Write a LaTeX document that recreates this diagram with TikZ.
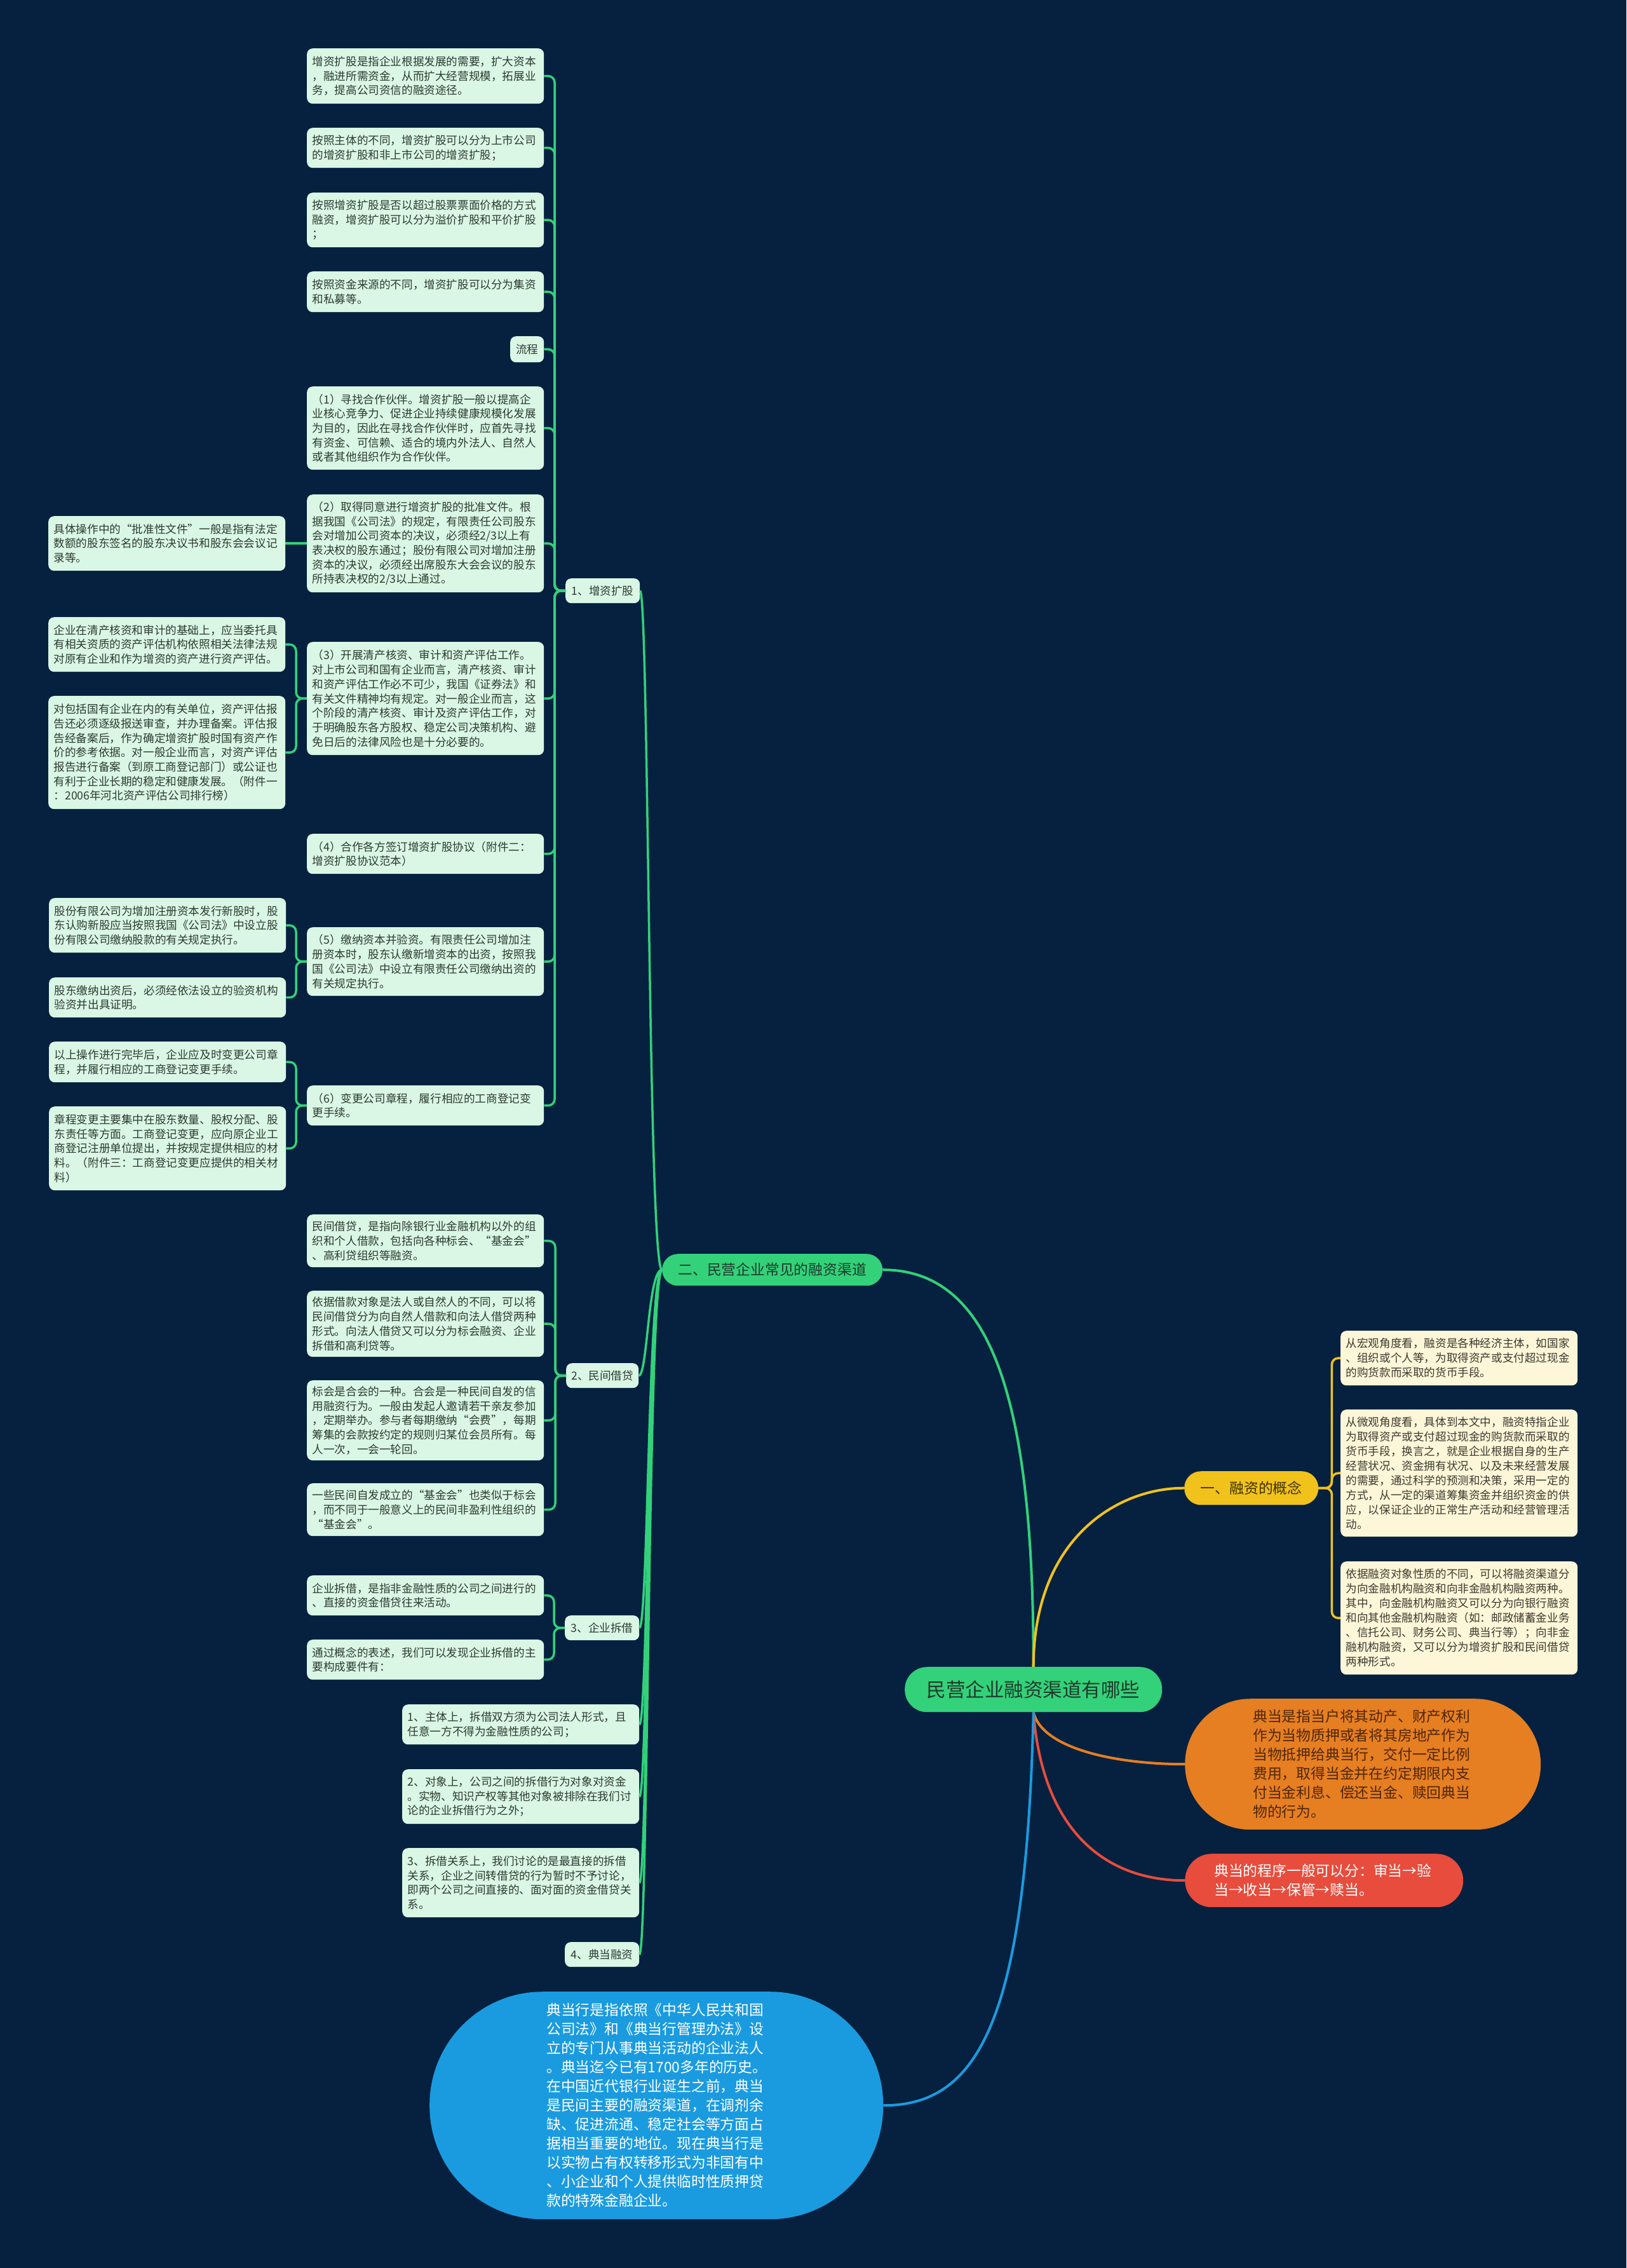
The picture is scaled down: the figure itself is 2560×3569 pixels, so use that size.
\documentclass[tikz,border=0pt]{standalone}
\usepackage{fontspec}
\newfontfamily\cjk{Noto Sans CJK SC}
\definecolor{bgnavy}{HTML}{05213F}
\definecolor{mint}{HTML}{DAF6E4}
\definecolor{leafink}{HTML}{2C3B33}
\definecolor{grn}{HTML}{33D17A}
\definecolor{grnink}{HTML}{1E3A2A}
\definecolor{gold}{HTML}{F1C21B}
\definecolor{goldink}{HTML}{3B3000}
\definecolor{cream}{HTML}{FDF6D8}
\definecolor{creamink}{HTML}{3D3A30}
\definecolor{amber}{HTML}{E67E22}
\definecolor{amberink}{HTML}{4E2707}
\definecolor{tomato}{HTML}{E74C3C}
\definecolor{sky}{HTML}{1A9BE0}

\begin{document}
\begin{tikzpicture}[x=1pt,y=-1pt,
  every node/.style={anchor=north west, inner sep=0pt},
  leaf/.style={fill=mint, text=leafink, rounded corners=9, text width=356, align=left,
    inner xsep=8.5, font=\cjk\fontsize{17.6}{22.7}\selectfont},
  sub/.style={fill=mint, text=leafink, rounded corners=9, minimum height=39,
    font=\cjk\fontsize{17.6}{22.7}\selectfont},
  note/.style={fill=cream, text=creamink, rounded corners=9, text width=356, align=left,
    inner xsep=8.5, font=\cjk\fontsize{17.6}{23}\selectfont},
  branch/.style={rounded corners=25, minimum height=50, font=\cjk\fontsize{22.8}{28}\selectfont},
  topic/.style={fill=grn, text=grnink, rounded corners=35, minimum width=405, minimum height=71,
    font=\cjk\fontsize{30.5}{36}\selectfont},
  bubble/.style={text width=346, align=left, font=\cjk\fontsize{22.8}{30}\selectfont},
  link/.style={draw=grn, line width=3.5, rounded corners=10},
  goldlink/.style={draw=gold, line width=3.5, rounded corners=10}]
\useasboundingbox[fill=bgnavy] (0,0) rectangle (2560,3569);

\node[leaf, minimum height=87] (b1) at (483,76) {增资扩股是指企业根据发展的需要，扩大资本\\，融进所需资金，从而扩大经营规模，拓展业\\务，提高公司资信的融资途径。};
\node[leaf, minimum height=63] (b2) at (483,201) {按照主体的不同，增资扩股可以分为上市公司\\的增资扩股和非上市公司的增资扩股；};
\node[leaf, minimum height=86] (b3) at (483,303) {按照增资扩股是否以超过股票票面价格的方式\\融资，增资扩股可以分为溢价扩股和平价扩股\\；};
\node[leaf, minimum height=64] (b4) at (483,427) {按照资金来源的不同，增资扩股可以分为集资\\和私募等。};
\node[sub, minimum width=53, minimum height=41] (lc) at (803,529) {流程};
\node[leaf, minimum height=131] (p1) at (483,608) {（1）寻找合作伙伴。增资扩股一般以提高企\\业核心竞争力、促进企业持续健康规模化发展\\为目的，因此在寻找合作伙伴时，应首先寻找\\有资金、可信赖、适合的境内外法人、自然人\\或者其他组织作为合作伙伴。};
\node[leaf, minimum height=154] (p2) at (483,778) {（2）取得同意进行增资扩股的批准文件。根\\据我国《公司法》的规定，有限责任公司股东\\会对增加公司资本的决议，必须经2/3以上有\\表决权的股东通过；股份有限公司对增加注册\\资本的决议，必须经出席股东大会会议的股东\\所持表决权的2/3以上通过。};
\node[leaf, minimum height=86] (p2a) at (76,812) {具体操作中的“批准性文件”一般是指有法定\\数额的股东签名的股东决议书和股东会会议记\\录等。};
\node[leaf, minimum height=178] (p3) at (483,1010) {（3）开展清产核资、审计和资产评估工作。\\对上市公司和国有企业而言，清产核资、审计\\和资产评估工作必不可少，我国《证券法》和\\有关文件精神均有规定。对一般企业而言，这\\个阶段的清产核资、审计及资产评估工作，对\\于明确股东各方股权、稳定公司决策机构、避\\免日后的法律风险也是十分必要的。};
\node[leaf, minimum height=86] (p3a) at (76,971) {企业在清产核资和审计的基础上，应当委托具\\有相关资质的资产评估机构依照相关法律法规\\对原有企业和作为增资的资产进行资产评估。};
\node[leaf, minimum height=178] (p3b) at (76,1095) {对包括国有企业在内的有关单位，资产评估报\\告还必须逐级报送审查，并办理备案。评估报\\告经备案后，作为确定增资扩股时国有资产作\\价的参考依据。对一般企业而言，对资产评估\\报告进行备案（到原工商登记部门）或公证也\\有利于企业长期的稳定和健康发展。（附件一\\：2006年河北资产评估公司排行榜）};
\node[leaf, minimum height=63] (p4) at (483,1312) {（4）合作各方签订增资扩股协议（附件二：\\增资扩股协议范本）};
\node[leaf, minimum height=108] (p5) at (483,1459) {（5）缴纳资本并验资。有限责任公司增加注\\册资本时，股东认缴新增资本的出资，按照我\\国《公司法》中设立有限责任公司缴纳出资的\\有关规定执行。};
\node[leaf, minimum height=86] (p5a) at (77,1413) {股份有限公司为增加注册资本发行新股时，股\\东认购新股应当按照我国《公司法》中设立股\\份有限公司缴纳股款的有关规定执行。};
\node[leaf, minimum height=63] (p5b) at (77,1538) {股东缴纳出资后，必须经依法设立的验资机构\\验资并出具证明。};
\node[leaf, minimum height=63] (p6) at (483,1708) {（6）变更公司章程，履行相应的工商登记变\\更手续。};
\node[leaf, minimum height=64] (p6a) at (77,1639) {以上操作进行完毕后，企业应及时变更公司章\\程，并履行相应的工商登记变更手续。};
\node[leaf, minimum height=132] (p6b) at (77,1741) {章程变更主要集中在股东数量、股权分配、股\\东责任等方面。工商登记变更，应向原企业工\\商登记注册单位提出，并按规定提供相应的材\\料。（附件三：工商登记变更应提供的相关材\\料）};
\node[sub, minimum width=117] (l1) at (890,910) {1、增资扩股};

\node[leaf, minimum height=83] (m1) at (483,1911) {民间借贷，是指向除银行业金融机构以外的组\\织和个人借款，包括向各种标会、“基金会”\\、高利贷组织等融资。};
\node[leaf, minimum height=104] (m2) at (483,2031) {依据借款对象是法人或自然人的不同，可以将\\民间借贷分为向自然人借款和向法人借贷两种\\形式。向法人借贷又可以分为标会融资、企业\\拆借和高利贷等。};
\node[leaf, minimum height=126] (m3) at (483,2172) {标会是合会的一种。合会是一种民间自发的信\\用融资行为。一般由发起人邀请若干亲友参加\\，定期举办。参与者每期缴纳“会费”，每期\\筹集的会款按约定的规则归某位会员所有。每\\人一次，一会一轮回。};
\node[leaf, minimum height=83] (m4) at (483,2334) {一些民间自发成立的“基金会”也类似于标会\\，而不同于一般意义上的民间非盈利性组织的\\“基金会”。};
\node[sub, minimum width=114] (l2) at (891,2145) {2、民间借贷};

\node[leaf, minimum height=63] (q1) at (483,2479) {企业拆借，是指非金融性质的公司之间进行的\\、直接的资金借贷往来活动。};
\node[leaf, minimum height=63] (q2) at (483,2580) {通过概念的表述，我们可以发现企业拆借的主\\要构成要件有：};
\node[sub, minimum width=117] (l3) at (889,2542) {3、企业拆借};

\node[leaf, minimum height=63] (k1) at (633,2682) {1、主体上，拆借双方须为公司法人形式，且\\任意一方不得为金融性质的公司；};
\node[leaf, minimum height=86] (k2) at (633,2784) {2、对象上，公司之间的拆借行为对象对资金\\。实物、知识产权等其他对象被排除在我们讨\\论的企业拆借行为之外；};
\node[leaf, minimum height=109] (k3) at (633,2908) {3、拆借关系上，我们讨论的是最直接的拆借\\关系，企业之间转借贷的行为暂时不予讨论，\\即两个公司之间直接的、面对面的资金借贷关\\系。};
\node[sub, minimum width=117] (l4) at (889,3056) {4、典当融资};

\node[branch, fill=grn, text=grnink, minimum width=347] (e) at (1042,1973) {二、民营企业常见的融资渠道};
\node[topic] (r) at (1424,2623) {民营企业融资渠道有哪些};
\node[branch, fill=gold, text=goldink, minimum width=211, minimum height=53, rounded corners=26] (y) at (1864,2315) {一、融资的概念};

\node[note, minimum height=86] (c1) at (2110,2094) {从宏观角度看，融资是各种经济主体，如国家\\、组织或个人等，为取得资产或支付超过现金\\的购货款而采取的货币手段。};
\node[note, minimum height=200] (c2) at (2110,2218) {从微观角度看，具体到本文中，融资特指企业\\为取得资产或支付超过现金的购货款而采取的\\货币手段，换言之，就是企业根据自身的生产\\经营状况、资金拥有状况、以及未来经营发展\\的需要，通过科学的预测和决策，采用一定的\\方式，从一定的渠道筹集资金并组织资金的供\\应，以保证企业的正常生产活动和经营管理活\\动。};
\node[note, minimum height=178] (c3) at (2110,2457) {依据融资对象性质的不同，可以将融资渠道分\\为向金融机构融资和向非金融机构融资两种。\\其中，向金融机构融资又可以分为向银行融资\\和向其他金融机构融资（如：邮政储蓄金业务\\、信托公司、财务公司、典当行等）；向非金\\融机构融资，又可以分为增资扩股和民间借贷\\两种形式。};

\node[bubble, fill=amber, text=amberink, minimum width=560, minimum height=206, rounded corners=103] (o) at (1865,2673) {典当是指当户将其动产、财产权利\\作为当物质押或者将其房地产作为\\当物抵押给典当行，交付一定比例\\费用，取得当金并在约定期限内支\\付当金利息、偿还当金、赎回典当\\物的行为。};
\node[bubble, fill=tomato, text=white, minimum width=438, minimum height=84, rounded corners=42] (d) at (1865,2917) {典当的程序一般可以分：审当→验\\当→收当→保管→赎当。};
\node[bubble, fill=sky, text=white, minimum width=714, minimum height=358, rounded corners=178] (bl) at (676,3134) {典当行是指依照《中华人民共和国\\公司法》和《典当行管理办法》设\\立的专门从事典当活动的企业法人\\。典当迄今已有1700多年的历史。\\在中国近代银行业诞生之前，典当\\是民间主要的融资渠道，在调剂余\\缺、促进流通、稳定社会等方面占\\据相当重要的地位。现在典当行是\\以实物占有权转移形式为非国有中\\、小企业和个人提供临时性质押贷\\款的特殊金融企业。};

\foreach \c in {b1,b2,b3,b4,lc,p1,p2,p3,p4,p5,p6}
  \draw[link] (l1.west) -- ++(-17,0) |- (\c.east);
\draw[link] (p2.west) -- (p2a.east);
\foreach \c in {p3a,p3b}
  \draw[link] (p3.west) -- ++(-17,0) |- (\c.east);
\foreach \c in {p5a,p5b}
  \draw[link] (p5.west) -- ++(-17,0) |- (\c.east);
\foreach \c in {p6a,p6b}
  \draw[link] (p6.west) -- ++(-17,0) |- (\c.east);
\foreach \c in {m1,m2,m3,m4}
  \draw[link] (l2.west) -- ++(-17,0) |- (\c.east);
\foreach \c in {q1,q2}
  \draw[link] (l3.west) -- ++(-17,0) |- (\c.east);
\foreach \c in {l1,l2,l3,k1,k2,k3,l4}
  \draw[link] (e.west) .. controls +(-22,0) and +(14,0) .. (\c.east);
\foreach \c in {c1,c2,c3}
  \draw[goldlink] (y.east) -- ++(21,0) |- (\c.west);

\draw[grn, line width=4] (r.north) .. controls (1627,2200) and (1560,1998) .. (e.east);
\draw[gold, line width=4] (r.north) .. controls (1627,2420) and (1760,2341) .. (y.west);
\draw[amber, line width=4] (r.south) .. controls (1640,2750) and (1750,2776) .. (o.west);
\draw[tomato, line width=4] (r.south) .. controls (1640,2870) and (1730,2959) .. (d.west);
\draw[sky, line width=4] (r.south) .. controls (1615,3180) and (1540,3313) .. (bl.east);
\end{tikzpicture}
\end{document}
